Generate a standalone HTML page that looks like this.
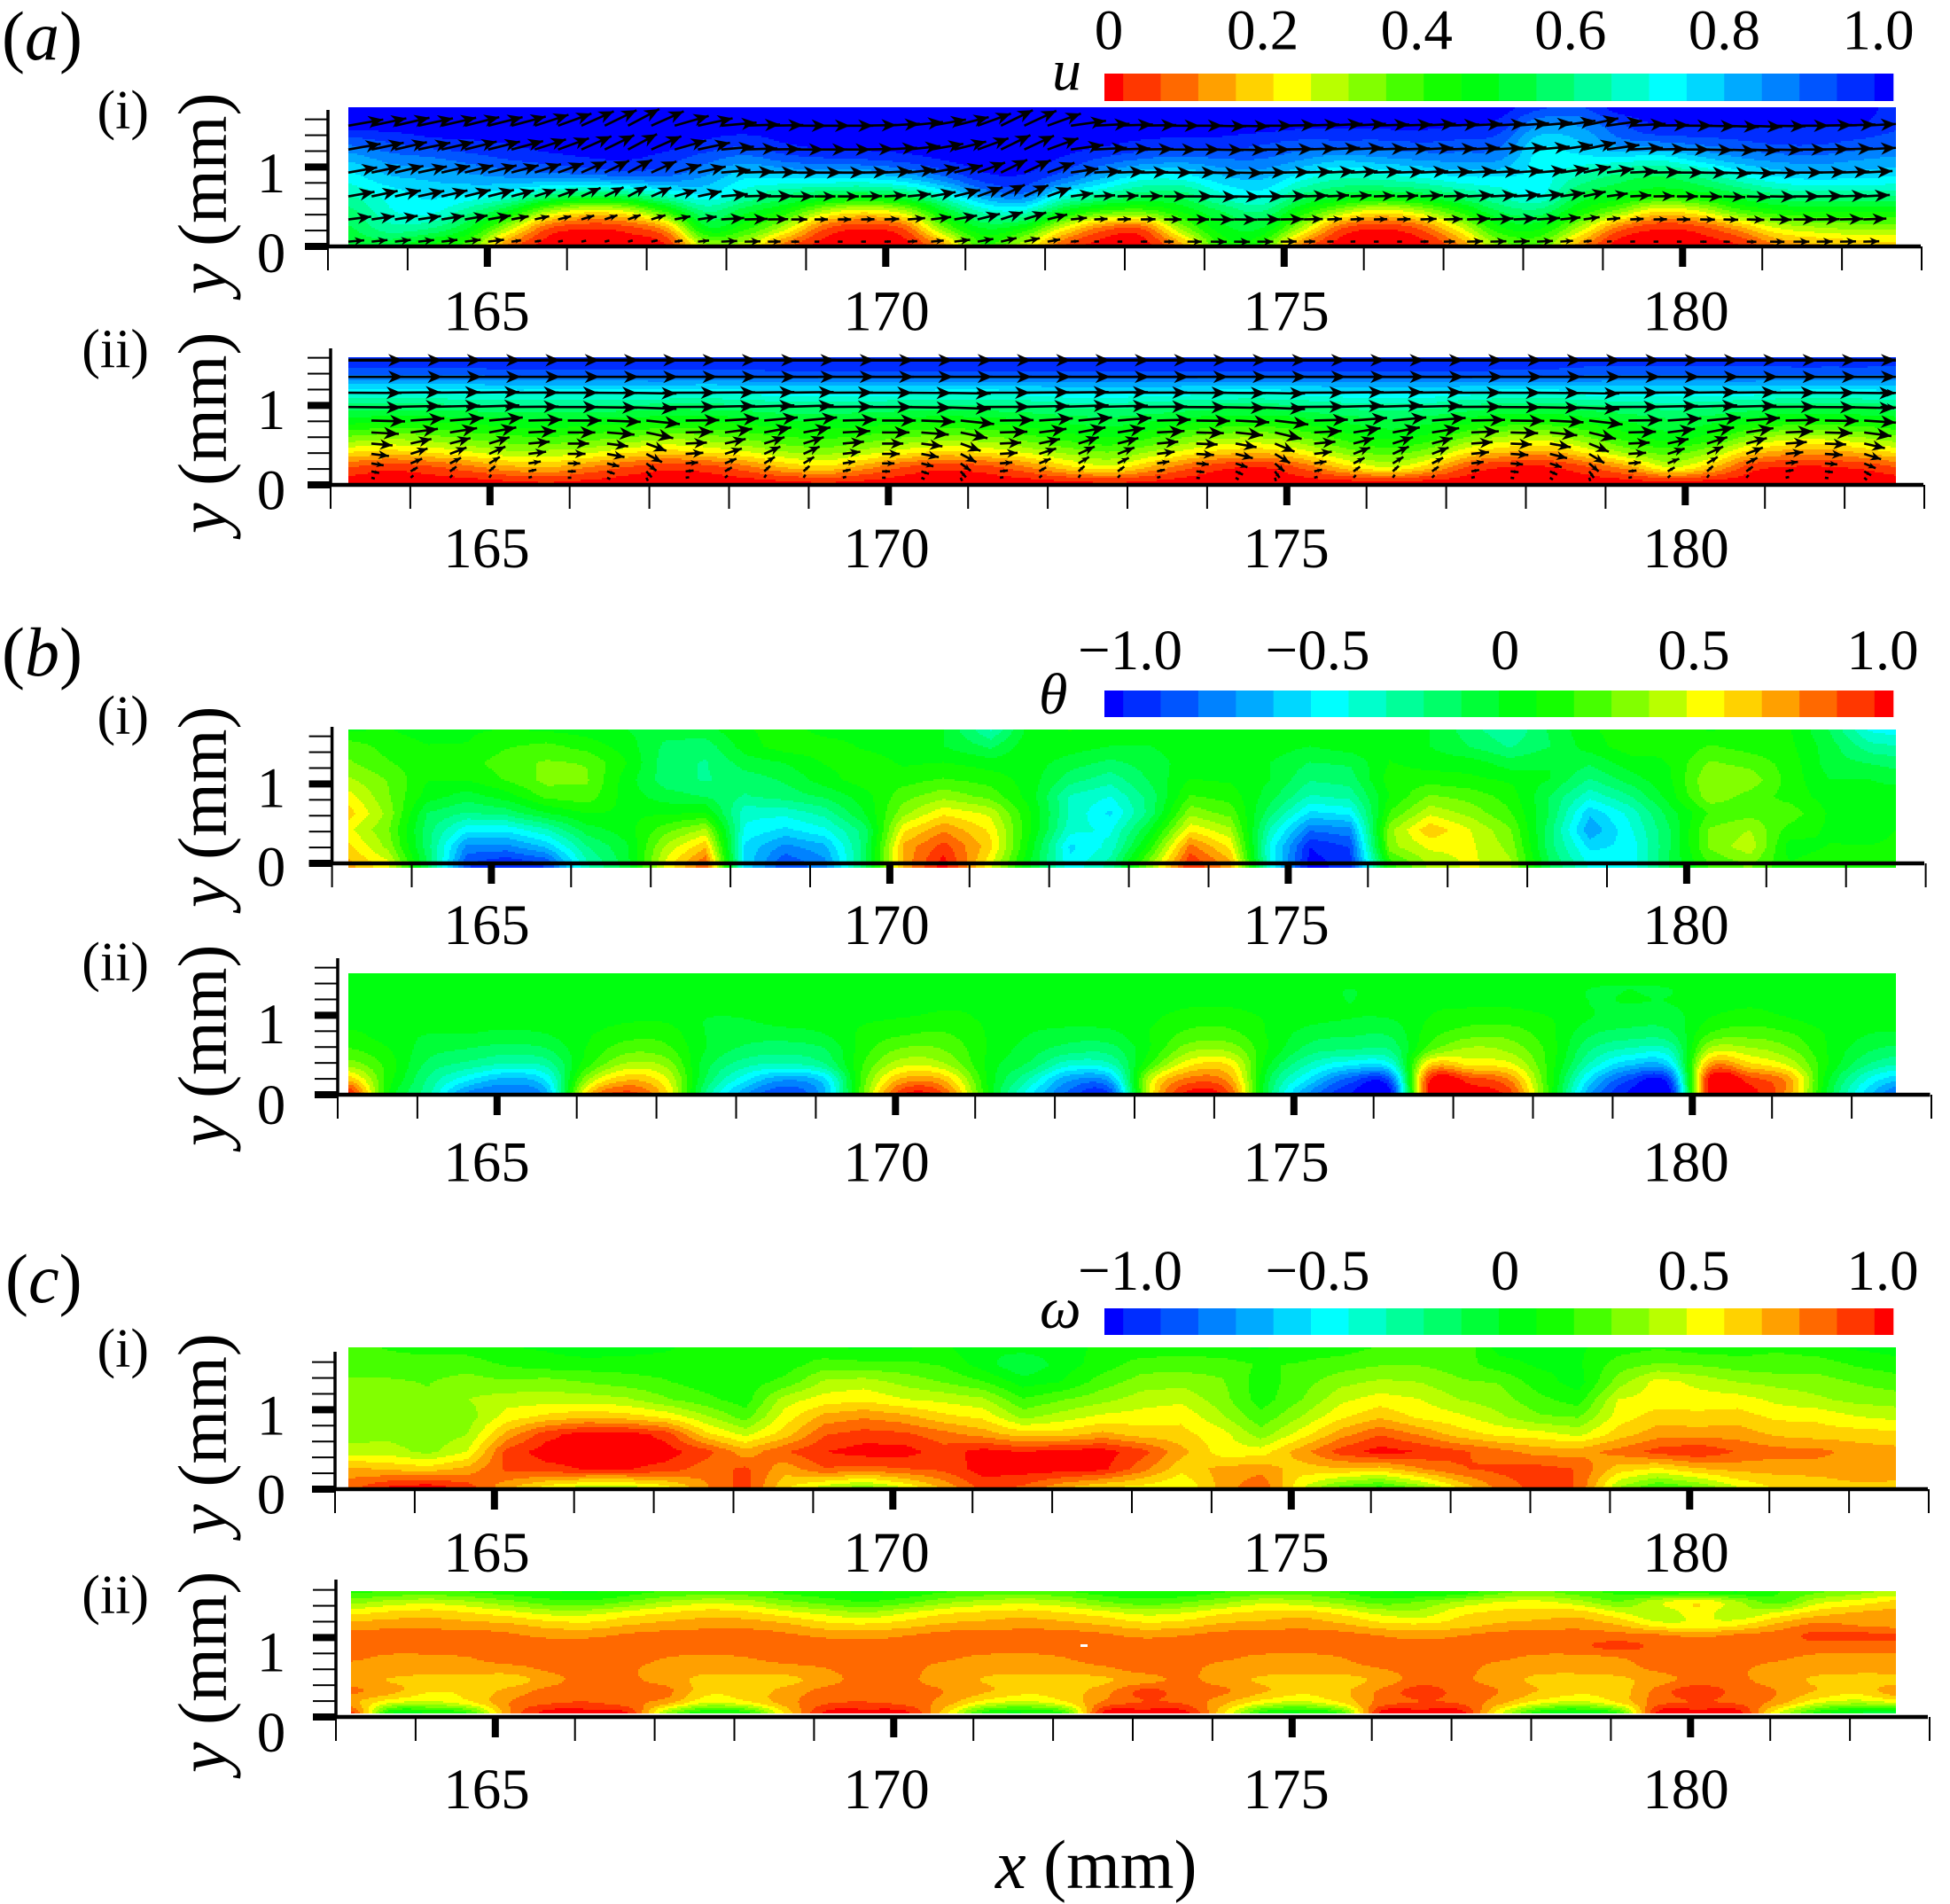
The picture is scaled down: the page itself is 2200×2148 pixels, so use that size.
<!DOCTYPE html>
<html lang="en">
<head>
<meta charset="utf-8">
<title>Contour panels of u, theta and omega</title>
<style>
html,body{margin:0;padding:0;background:#fff;}
svg{display:block;}
text{font-family:"Liberation Serif",serif;fill:#000;}
.it{font-style:italic;}
</style>
</head>
<body>
<svg id="fig" xmlns="http://www.w3.org/2000/svg" width="2200" height="2148" viewBox="0 0 2200 2148">
<rect x="0" y="0" width="2200" height="2148" fill="#fff"/>
<g id="plots"></g>
<text x="2" y="67" font-size="78">(<tspan class="it">a</tspan>)</text>
<text x="2" y="762" font-size="78">(<tspan class="it">b</tspan>)</text>
<text x="6" y="1469" font-size="78">(<tspan class="it">c</tspan>)</text>
<text class="it" x="1187" y="101" font-size="66">u</text>
<text class="it" x="1172" y="805" font-size="66">θ</text>
<text class="it" x="1173" y="1498" font-size="66">ω</text>
<text x="1123" y="2130" font-size="78"><tspan class="it">x</tspan> (mm)</text>
</svg>
<script>
// Each field: columns left to right, each column listed top to bottom (percent of full scale).
const uFieldAI = [
[100,100,90,80,72,65,58,54,50],[100,100,93,85,78,71,68,62,52],[100,100,96,87,80,75,71,60,45],[100,100,97,90,82,74,62,50,38],
[100,100,98,93,84,70,50,30,12],[100,100,100,95,85,62,32,8,0],[100,100,100,97,86,58,24,3,0],[100,100,100,98,88,60,27,5,0],
[100,100,100,95,88,68,42,15,2],[100,100,97,90,83,74,60,48,30],[100,100,95,86,75,66,52,42,28],[100,100,98,90,76,60,44,28,10],
[100,100,100,92,76,56,30,8,0],[100,100,100,93,76,54,24,3,0],[100,100,100,95,80,58,30,8,0],[100,100,100,98,88,70,50,34,15],
[100,100,100,100,96,84,66,50,40],[100,100,100,100,97,88,68,45,28],[100,100,100,97,90,72,50,25,8],[100,100,99,92,80,64,40,10,0],
[100,100,97,88,72,58,38,8,0],[100,100,96,86,72,58,46,32,15],[100,100,96,88,78,68,55,48,42],[100,100,94,88,80,72,60,50,40],
[100,99,92,84,72,60,45,30,12],[100,99,92,80,66,54,32,8,0],[100,99,92,82,67,52,24,3,0],[100,99,93,84,70,54,30,8,0],
[100,98,92,85,74,60,42,25,12],[100,96,90,84,74,66,55,44,32],[94,84,76,72,72,70,58,46,36],[92,84,78,72,64,55,45,30,15],
[100,92,86,72,58,50,34,10,0],[100,98,88,70,55,46,22,3,0],[100,98,90,76,60,48,26,5,0],[100,98,92,82,68,54,38,14,2],
[100,98,94,85,74,60,44,26,12],[100,98,94,86,76,62,46,30,16],[100,98,92,84,75,62,46,32,18],[96,94,90,82,74,62,46,32,20]
];
const uFieldAII = [
[96,90,74,59,48,36,22,7,0],[96,90,74,59,47,34,20,4,0],[96,90,74,59,47,35,22,6,0],[96,90,74,60,48,38,26,10,0],
[96,91,75,61,49,40,30,15,1],[96,91,75,61,50,41,30,17,2],[96,91,75,61,49,39,28,12,1],[96,91,75,60,48,37,23,7,0],
[96,91,75,59,47,34,20,4,0],[96,91,74,59,47,35,22,5,0],[96,91,75,60,48,38,26,10,0],[96,92,76,62,50,41,31,17,1],
[96,92,76,62,50,42,33,20,2],[96,92,76,62,49,40,29,14,1],[96,92,76,60,48,37,24,7,0],[96,92,75,60,47,35,21,4,0],
[96,92,75,60,48,36,23,6,0],[96,92,76,61,50,40,28,12,0],[96,92,77,63,52,44,33,20,1],[96,92,77,63,53,46,36,24,2],
[96,92,77,62,51,42,31,16,1],[96,92,76,60,48,36,24,8,0],[96,92,75,59,46,33,19,3,0],[96,92,75,59,46,33,19,3,0],
[96,92,76,61,49,38,26,10,0],[96,92,77,63,52,44,34,20,0],[96,92,77,64,54,47,38,26,1],[96,92,77,63,52,44,33,18,0],
[96,92,76,60,48,36,22,6,0],[95,91,75,58,45,31,17,2,0],[95,91,75,58,45,31,16,2,0],[95,90,76,60,48,37,24,7,0],
[95,90,76,62,51,44,33,15,0],[95,90,76,63,54,48,38,26,1],[95,90,76,62,52,44,32,18,0],[95,90,76,60,48,35,20,5,0],
[95,90,75,58,45,30,15,2,0],[95,90,75,58,45,30,15,2,0],[95,90,75,59,46,33,19,4,0],[95,90,76,60,48,37,24,8,0]
];
const thetaFieldBI = [
[8,25,30,40,52,62,50,60,70],[10,15,20,28,30,35,30,35,50],[5,10,12,10,5,-10,-15,-15,-10],[8,10,15,10,-5,-20,-45,-70,-85],
[10,18,25,20,5,-15,-45,-70,-95],[8,22,30,32,22,0,-30,-55,-85],[5,15,28,30,25,10,-5,-20,-30],[0,5,10,5,5,8,5,-2,-5],
[-5,-12,-15,-15,-5,8,25,40,50],[-3,-15,-20,-20,-10,10,40,65,85],[8,5,-5,-15,-20,-35,-40,-50,-50],[15,15,0,-8,-15,-35,-50,-70,-85],
[5,15,10,5,-8,-25,-40,-60,-70],[5,8,15,15,5,0,-15,-15,-15],[5,5,8,15,25,35,55,70,70],[0,0,10,20,35,55,75,90,100],
[-30,-12,5,15,25,45,55,60,50],[5,8,5,5,5,10,10,5,0],[10,5,-5,-15,-30,-30,-35,-50,-45],[5,0,-12,-25,-38,-50,-40,-35,-25],
[5,0,-5,-8,-15,-15,0,15,35],[8,5,5,10,20,35,55,80,95],[8,8,5,8,15,25,40,55,70],[5,5,0,0,-5,-15,-30,-40,-40],
[8,0,-10,-18,-30,-50,-75,-95,-100],[8,5,-8,-15,-25,-45,-70,-85,-90],[5,8,10,15,10,20,35,35,15],[0,0,5,15,30,45,65,50,40],
[-15,-10,5,12,25,35,48,50,50],[-28,-20,-5,8,15,20,30,35,40],[-8,-10,0,0,-10,-10,-15,-15,-10],[8,5,-8,-20,-35,-55,-65,-50,-40],
[15,15,5,-5,-20,-35,-40,-45,-45],[18,10,10,8,5,-5,-10,-10,-8],[8,20,30,38,35,20,30,30,20],[15,15,25,35,25,25,38,45,30],
[10,12,15,15,15,25,15,5,10],[-10,-5,-5,0,5,8,8,10,15],[-40,-25,-10,0,5,5,5,10,10],[-45,-30,-15,-5,8,12,12,12,10]
];
const thetaFieldBII = [
[5,5,5,5,12,20,35,65,100],[5,5,5,5,5,10,15,15,10],[5,5,5,5,0,-5,-12,-20,-25],[5,5,5,5,0,-10,-22,-45,-70],
[5,5,5,5,-3,-14,-30,-60,-75],[5,5,5,5,0,-10,-25,-45,-60],[5,5,5,5,8,10,15,35,60],[5,5,5,8,15,25,40,65,90],
[5,5,5,8,15,22,35,50,60],[5,5,5,0,0,0,-5,-10,-20],[5,5,5,0,-5,-12,-25,-45,-65],[5,5,5,5,-5,-15,-30,-65,-85],
[5,5,5,5,0,-10,-20,-50,-60],[5,5,5,8,12,15,20,25,30],[5,5,5,10,18,30,45,70,95],[5,5,8,12,20,28,40,65,85],
[5,5,8,8,8,8,5,5,5],[5,5,5,5,0,-5,-12,-30,-45],[5,5,5,5,-5,-14,-35,-65,-80],[5,5,5,5,-3,-14,-30,-60,-85],
[5,5,5,8,10,10,20,45,50],[5,5,8,15,22,35,55,80,100],[5,5,8,15,22,35,55,70,85],[5,5,5,8,8,8,0,-10,-15],
[5,5,5,3,-5,-14,-30,-50,-70],[5,0,0,0,-8,-18,-45,-80,-95],[5,5,5,0,-8,-18,-40,-80,-100],[5,5,8,10,15,25,60,95,100],
[5,5,8,15,25,40,55,90,100],[5,5,8,15,25,35,50,75,90],[5,5,5,10,12,15,15,15,15],[5,0,0,0,-8,-18,-30,-50,-65],
[0,0,0,-5,-14,-30,-55,-85,-98],[5,0,0,-5,-12,-28,-50,-85,-100],[5,5,5,10,20,40,70,100,100],[5,5,8,15,25,40,60,90,100],
[5,5,5,10,20,30,45,70,70],[5,0,5,5,8,8,8,0,-5],[5,5,5,5,0,-8,-20,-40,-55],[5,5,5,5,-2,-14,-30,-60,-85]
];
const omegaFieldCI = [
[24,24,30,33,30,33,43,70,81],[18,24,30,33,33,35,43,65,95],[15,24,28,30,30,30,35,62,100],[15,24,33,38,33,38,48,70,90],
[10,18,30,43,52,70,90,88,70],[8,14,33,43,60,92,100,92,55],[3,14,28,43,65,100,100,96,45],[5,14,24,40,62,100,100,96,45],
[8,14,20,30,55,92,100,92,55],[14,14,14,22,40,60,90,80,75],[18,14,14,14,24,45,70,88,90],[18,14,22,43,52,62,85,70,60],
[10,24,40,52,70,85,95,85,45],[8,22,43,55,75,90,100,82,35],[8,22,35,48,70,88,100,85,50],[12,18,28,45,60,80,90,88,70],
[0,5,20,40,55,72,100,100,90],[5,-10,5,20,35,62,95,100,85],[5,5,10,28,43,62,100,100,70],[12,14,24,35,50,70,100,98,60],
[12,24,33,43,52,62,90,80,55],[14,24,35,45,55,60,70,60,48],[12,24,30,33,40,52,52,70,70],[8,18,14,14,22,33,52,72,85],
[14,20,24,28,38,52,72,62,50],[14,24,35,45,55,72,90,65,28],[20,28,40,52,65,85,100,62,18],[20,28,38,48,55,75,95,75,35],
[28,24,30,38,50,62,88,85,60],[5,14,28,33,40,55,80,88,80],[5,8,14,22,30,52,72,90,90],[8,8,5,14,28,45,72,85,85],
[14,24,33,48,52,62,80,62,40],[18,30,52,52,62,72,90,55,20],[14,28,45,52,60,72,95,65,30],[14,24,38,52,62,72,85,70,48],
[18,22,35,45,55,65,80,70,60],[14,24,33,40,55,62,80,70,62],[8,18,28,35,48,62,72,72,65],[5,14,24,33,45,60,70,70,65]
];
const omegaFieldCII = [
[16,35,55,70,80,81,78,72,72,78,70,90],[20,42,60,72,81,81,74,72,66,70,50,10],[22,45,62,72,81,81,74,70,63,58,45,10],[18,40,58,70,81,81,76,71,63,60,55,20],
[14,32,52,68,78,81,81,72,62,70,76,75],[10,24,45,62,74,81,81,78,72,80,84,100],[8,22,45,60,74,81,81,81,81,84,86,100],[14,30,52,66,78,81,81,78,78,80,80,95],
[20,40,58,70,80,81,76,71,72,78,70,35],[22,45,62,72,81,81,74,70,63,60,48,10],[22,42,60,72,81,81,76,70,63,62,55,15],[16,32,52,68,78,81,80,72,64,70,72,60],
[12,25,45,60,74,81,81,76,72,80,84,98],[8,20,40,58,72,81,81,81,81,84,86,100],[12,26,48,62,76,81,81,80,78,80,82,98],[18,36,56,68,80,81,78,72,72,76,72,60],
[22,42,60,70,81,81,74,70,66,68,52,15],[24,45,62,72,81,81,73,70,62,60,45,8],[20,40,58,70,81,81,76,71,62,62,55,20],[14,30,52,66,78,81,81,74,65,72,78,98],
[10,24,45,60,74,81,81,80,72,88,86,100],[12,28,48,62,76,81,81,80,78,82,84,100],[18,36,56,68,80,81,78,72,72,78,70,60],[22,45,60,70,81,81,74,71,65,68,52,15],
[24,42,62,72,81,81,73,70,62,60,45,8],[18,35,55,68,80,81,76,72,62,64,58,22],[10,25,45,60,76,81,81,76,70,78,80,98],[8,30,42,58,72,81,81,80,81,90,86,100],
[12,40,55,62,76,81,81,80,78,82,84,100],[25,48,60,68,80,81,78,72,72,76,70,50],[30,50,62,70,81,81,74,70,64,66,52,12],[22,42,62,72,81,84,73,70,62,60,45,5],
[16,30,50,66,80,88,76,72,64,62,58,20],[10,45,40,52,78,84,81,78,72,80,82,98],[12,55,52,50,74,81,81,81,80,92,86,100],[8,40,40,55,78,81,81,78,78,82,84,100],
[18,25,50,68,81,81,78,72,72,76,72,50],[26,45,62,78,88,81,74,70,65,66,50,15],[34,52,68,75,88,81,74,70,62,60,42,0],[40,60,70,72,88,81,74,71,62,72,48,-10]
];
// Velocity arrows, panel (a)(i)
const aiRowHeightMm = [1.52,1.22,0.93,0.63,0.34,0.06];
const aiRowSpeed = [40,37,33,30,26,18];
const aiRowDampWeight = [0,0,0.1,0.3,0.6,1];
const aiRowAngleFactor = [1,1,1,1,0.7,0.5];
const aiAngleDeg = [10,12,13,12,13,14,14,15,18,20,24,26,28,24,16,12,5,2,1,0,0,0,1,3,6,10,14,20,26,25,20,8,3,2,1,0,0,-1,-1,0,1,2,3,3,2,2,3,2,3,3,4,5,8,12,8,3,1,0,-1,-2,-2,-1,0,1,2,3];
const aiColumnDamp = [1,1,1,1,1,1,1,.6,.4,.3,.3,.3,.3,.4,.5,.7,1,1,.8,.5,.3,.3,.3,.4,.6,.8,1,1,1,1,.8,.5,.3,.3,.4,.6,.9,1,1,1,1,.7,.4,.3,.3,.3,.5,.7,1,1,1,1,.8,.5,.3,.3,.3,.3,.4,.4,.6,.9,1,1,1,1];
// Velocity arrows, panel (a)(ii)
const aiiRowHeightMm = [1.57,1.36,1.16,0.98,0.81,0.66,0.52,0.39,0.27,0.17,0.09];
const aiiRowSpeed = [62,62,60,60,38,31,24,20,14,9,4];
const aiiRowLean = [0,0,0.02,0.05,0.15,0.3,0.5,0.7,0.9,1.2,1.6];
const aiiLeanDeg = [-10,25,30,35,10,0,-15,-40,5,25,35,35,10,0,-15,-40,5,25,35,30,10,-5,-20,-45,10,30,35,30,8,-5,-20,-45,5,25,35,30,8,-5,-25,-45];
// Axis and colorbar labels
const xTickValues = [165,170,175,180];
const xTickRange = [163,183];
const yTickValues = [0,1];
const uBarTicks = [0,0.2,0.4,0.6,0.8,1.0];
const uBarTickLabels = ["0","0.2","0.4","0.6","0.8","1.0"];
const signedBarTicks = [-1,-0.5,0,0.5,1];
const signedBarTickLabels = ["\u22121.0","\u22120.5","0","0.5","1.0"];
// Colour levels of the rainbow scale, low to high of the signed bar
const palette = ["#0000ff","#002dff","#0055ff","#0082ff","#00aaff","#00d7ff","#00ffff","#00ffcc","#00ff99","#00ff69","#00ff37","#00ff0f","#14ff00","#46ff00","#82ff00","#b9ff00","#ffff00","#ffd200","#ffa000","#ff6900","#ff3700","#ff0000"];

const NS = "http://www.w3.org/2000/svg";
const plots = document.getElementById("plots");
const PX_PER_MM_X = 89.9, PX_PER_MM_Y = 89.6;

function node(tag, parent, attrs) {
  const el = document.createElementNS(NS, tag);
  for (const k in attrs) el.setAttribute(k, attrs[k]);
  parent.appendChild(el);
  return el;
}
function catmull(a, b, c, d, t) {
  return b + 0.5 * t * (c - a + t * (2 * a - 5 * b + 4 * c - d + t * (3 * (b - c) + d - a)));
}
function sampler(field, smooth) {
  const nc = field.length, nr = field[0].length;
  const at = (i, j) => field[Math.max(0, Math.min(nc - 1, i))][Math.max(0, Math.min(nr - 1, j))];
  return function (fx, fy) {
    const i = Math.min(nc - 2, Math.floor(fx)), j = Math.min(nr - 2, Math.floor(fy));
    const tx = fx - i, ty = fy - j;
    if (!smooth) {
      return (at(i, j) * (1 - ty) + at(i, j + 1) * ty) * (1 - tx) + (at(i + 1, j) * (1 - ty) + at(i + 1, j + 1) * ty) * tx;
    }
    const row = q => catmull(at(i - 1, j + q), at(i, j + q), at(i + 1, j + q), at(i + 2, j + q), tx);
    return catmull(row(-1), row(0), row(1), row(2), ty);
  };
}

const panels = [
 {id:"a-i",  field:uFieldAI,      vmin:0,    vmax:100, rev:true,  smooth:true,  colShift:false, x0:370,   xEnd:2167,   axisY:278,  topY:124,  L:393, R:2139, T:121,  B:277,  drawB:278,  labelY:372.5, oneY:217,  zeroY:307,  titleStart:332,  tag:"(i)",  tagY:145},
 {id:"a-ii", field:uFieldAII,     vmin:0,    vmax:100, rev:true,  smooth:true,  colShift:true,  x0:373,   xEnd:2170,   axisY:547,  topY:393,  L:393, R:2139, T:403,  B:545,  drawB:546,  labelY:640,   oneY:484,  zeroY:574.5,titleStart:602,  tag:"(ii)", tagY:414.5},
 {id:"b-i",  field:thetaFieldBI,  vmin:-100, vmax:100, rev:false, smooth:false, colShift:true,  x0:374.6, xEnd:2171,   axisY:974,  topY:820,  L:393, R:2139, T:823,  B:974,  drawB:979,  labelY:1065,  oneY:910.5,zeroY:999.7,titleStart:1024, tag:"(i)",  tagY:828},
 {id:"b-ii", field:thetaFieldBII, vmin:-100, vmax:100, rev:false, smooth:true,  colShift:true,  x0:381,   xEnd:2177.5, axisY:1235, topY:1081, L:393, R:2139, T:1098, B:1235, drawB:1235, labelY:1332.6,oneY:1177, zeroY:1268, titleStart:1293, tag:"(ii)", tagY:1106},
 {id:"c-i",  field:omegaFieldCI,  vmin:-100, vmax:100, rev:false, smooth:false, colShift:false, x0:378,   xEnd:2175,   axisY:1680, topY:1525, L:393, R:2139, T:1520, B:1677, drawB:1677, labelY:1773,  oneY:1618.5,zeroY:1707.7,titleStart:1731.6,tag:"(i)",tagY:1542},
 {id:"c-ii", field:omegaFieldCII, vmin:-100, vmax:100, rev:false, smooth:true,  colShift:false, x0:379,   xEnd:2175,   axisY:1937, topY:1782, L:396, R:2139, T:1795, B:1933, drawB:1933, labelY:2040,  oneY:1885.7,zeroY:1976, titleStart:2000, tag:"(ii)", tagY:1820}
];

function colorFor(v, vmin, vmax, rev) {
  let idx = Math.round((v - vmin) / (vmax - vmin) * 21);
  idx = Math.max(0, Math.min(21, idx));
  return palette[rev ? 21 - idx : idx];
}
function labelX(v) { return 549 + (v - 165) * 90.2; }
// Columns in the right half of some fields sit slightly to the right of even spacing.
function columnOffset(f) {
  if (f < 15) return 0;
  if (f < 16) return (f - 15) * 0.18;
  return 0.18 + (f - 16) * 0.007;
}

function drawContours(p, g, xScale, yScale, xInv, yInv) {
  const sample = sampler(p.field, p.smooth);
  const nc = p.field.length, nr = p.field[0].length;
  const xa = xInv(p.L), xb = xInv(p.R), ya = yInv(p.T), yb = yInv(p.B);
  const STEP = 2;
  function flush(start, end, py, color) {
    const r = node("rect", g, {x: start, y: py, width: end - start, height: STEP, fill: color, "shape-rendering": "crispEdges"});
    
    
  }
  for (let py = p.T; py < p.drawB; py += STEP) {
    const fy = Math.max(0, Math.min(nr - 1, (yInv(py + 1) - ya) / (yb - ya) * (nr - 1)));
    let runStart = p.L, runColor = null;
    for (let px = p.L; px < p.R; px += STEP) {
      let fx = (xInv(px + 1) - xa) / (xb - xa) * (nc - 1);
      if (p.colShift) fx -= columnOffset(fx);
      fx = Math.max(0, Math.min(nc - 1, fx));
      const c = colorFor(sample(fx, fy), p.vmin, p.vmax, p.rev);
      if (c !== runColor) {
        if (runColor) flush(runStart, px, py, runColor);
        runStart = px;
        runColor = c;
      }
    }
    if (runColor) flush(runStart, p.R, py, runColor);
  }
}

function drawArrow(g, xBase, yBase, len, deg, R, sw, name) {
  const a = deg * Math.PI / 180;
  const cx = Math.cos(a), sy = Math.sin(a);
  if (xBase + len * cx > R) len = (R - xBase) / cx;
  if (len < 1) return;
  const tipX = xBase + len * cx, tipY = yBase - len * sy;
  const line = node("line", g, {x1: xBase, y1: yBase, x2: tipX, y2: tipY, stroke: "#000", "stroke-width": sw});
  
  
  const hl = Math.min(17, len * 0.6), hw = hl * 0.42;
  const bx = tipX - hl * cx, by = tipY + hl * sy;
  const nx = sy * hw, ny = cx * hw;
  const head = node("polygon", g, {points: tipX + "," + tipY + " " + (bx + nx) + "," + (by + ny) + " " + (tipX - hl * 0.7 * cx) + "," + (tipY + hl * 0.7 * sy) + " " + (bx - nx) + "," + (by - ny), fill: "#000"});
  
  
}

function label(parent, x, y, str, size, anchor, name) {
  const t = node("text", parent, {x: x, y: y, "font-size": size, "text-anchor": anchor});
  t.textContent = str;
  
  
  return t;
}

panels.forEach(function (p) {
  const g = node("g", plots, {});
  
  
  const xScale = v => p.x0 + (v - xTickRange[0]) * PX_PER_MM_X;
  const yScale = v => p.axisY - v * PX_PER_MM_Y;
  const xInv = px => xTickRange[0] + (px - p.x0) / PX_PER_MM_X;
  const yInv = py => (p.axisY - py) / PX_PER_MM_Y;

  const cg = node("g", g, {});
  
  
  drawContours(p, cg, xScale, yScale, xInv, yInv);

  const ag = node("g", g, {});
  
  
  if (p.id === "a-i") {
    aiAngleDeg.forEach(function (deg, k) {
      const xb = xScale(xInv(393) + k * 0.2925);
      aiRowHeightMm.forEach(function (h, r) {
        const len = aiRowSpeed[r] * (1 - (1 - aiColumnDamp[k]) * aiRowDampWeight[r]);
        drawArrow(ag, xb, yScale(h), len, deg * aiRowAngleFactor[r], p.R, 2.6, 'velocity-arrow');
      });
    });
  }
  if (p.id === "a-ii") {
    aiiLeanDeg.forEach(function (deg, k) {
      const xb = xScale(xInv(393) + k * 0.493);
      aiiRowHeightMm.forEach(function (h, r) {
        drawArrow(ag, xb + (r > 3 ? 26 : 0), yScale(h), aiiRowSpeed[r], deg * aiiRowLean[r], p.R, r === 0 ? 3.4 : 2.6, 'velocity-arrow');
      });
    });
  }
  if (p.id === "c-ii") {
    const speck = node("rect", g, {x: 1219, y: 1855, width: 8, height: 3, fill: "#fff"});
    
    
  }

  // axes
  const ax = node("g", g, {});
  
  
  const xLine = node("rect", ax, {x: p.x0 - 26, y: p.axisY - 2.25, width: p.xEnd - p.x0 + 26, height: 4.5, fill: "#000"});
  
  
  const yLine = node("rect", ax, {x: p.x0 - 1.75, y: p.topY, width: 3.5, height: p.axisY - p.topY, fill: "#000"});
  
  
  for (let v = xTickRange[0]; v <= xTickRange[1]; v++) {
    const major = xTickValues.indexOf(v) >= 0;
    const tk = node("rect", ax, {x: xScale(v) - (major ? 4 : 1), y: p.axisY, width: major ? 8 : 2, height: major ? 23 : 27, fill: "#000"});
    
    
  }
  for (let n = 0; n <= 8; n++) {
    const major = n % 5 === 0;
    const tk = node("rect", ax, {x: p.x0 - 26, y: yScale(n * 0.2) - (major ? 4 : 1), width: 26, height: major ? 8 : 2, fill: "#000"});
    
    
  }
  xTickValues.forEach(function (v) {
    label(ax, labelX(v), p.labelY, String(v), 65, "middle", 'x-tick-label');
  });
  yTickValues.forEach(function (v) {
    label(ax, 306, v === 0 ? p.zeroY : p.oneY, String(v), 65, "middle", 'y-tick-label');
  });
  const title = node("text", ax, {x: 255, y: p.titleStart, "font-size": 78, transform: "rotate(-90 255 " + p.titleStart + ")"});
  
  
  const ty = node("tspan", title, {"class": "it"});
  ty.textContent = "y";
  const tr = node("tspan", title, {});
  tr.textContent = " (mm)";
  label(ax, 168, p.tagY, p.tag, 62, "end", 'subpanel-label');
});

// colorbars
function colorbar(name, top, h, rev, ticks, tickLabels, labelY, tickPos) {
  const g = node("g", plots, {});
  
  
  const L = 1246, R = 2136, w = (R - L) / 21;
  palette.forEach(function (c, i) {
    const x0 = i === 0 ? L : L + (i - 0.5) * w;
    const x1 = i === 21 ? R : L + (i + 0.5) * w;
    const s = node("rect", g, {x: x0, y: top, width: x1 - x0 + 0.3, height: h, fill: rev ? palette[21 - i] : c});
    
    
  });
  ticks.forEach(function (v, i) {
    label(g, tickPos(v), labelY, tickLabels[i], 65, "middle", 'colorbar-tick-label');
  });
}
colorbar('u-colorbar', 83, 31, true, uBarTicks, uBarTickLabels, 55.5, v => 1251 + v * 868);
colorbar('theta-colorbar', 779, 30, false, signedBarTicks, signedBarTickLabels, 755, v => 1698 + v * (v < 0 ? 423 : 426));
colorbar('omega-colorbar', 1476, 30, false, signedBarTicks, signedBarTickLabels, 1455, v => 1698 + v * (v < 0 ? 423 : 426));
</script>
</body>
</html>
